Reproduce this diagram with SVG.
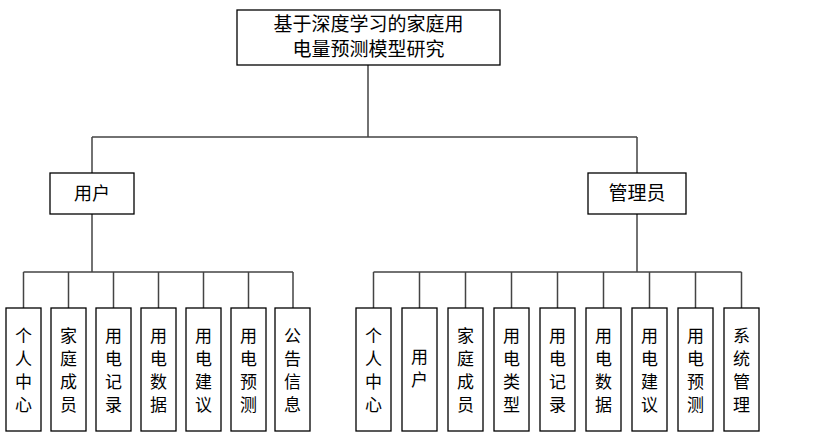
<svg xmlns="http://www.w3.org/2000/svg" width="814" height="446" viewBox="0 0 814 446">
<style>
.b{fill:#fff;stroke:#000;stroke-width:1.3}
.t{font-family:"Noto Sans CJK SC","Noto Sans",sans-serif;font-size:18px;text-anchor:middle;fill:#000}
.v{font-family:"Noto Sans CJK SC","Noto Sans",sans-serif;font-size:17px;text-anchor:middle;fill:#000}
.h{font-size:19px}
.c{fill:none;stroke:#444;stroke-width:1.5}
</style>
<rect width="814" height="446" fill="#fff"/>
<g id="connectors">
<path class="c" d="M368 65V137M92 137H637M92 137V173M637 137V173"/>
<path class="c" d="M92 214V272M23.5 272H293M23.5 272V308M68.5 272V308M113.5 272V308M158.5 272V308M203.5 272V308M248.5 272V308M293 272V308"/>
<path class="c" d="M637 214V272M373.5 272H741.5M373.5 272V308M419.5 272V308M465.5 272V308M511.5 272V308M557.5 272V308M603.5 272V308M649.5 272V308M695.5 272V308M741.5 272V308"/>
</g>
<g id="root"><rect class="b" x="237" y="10" width="263" height="55"/><text class="t h" x="368.5" y="31">基于深度学习的家庭用</text><text class="t h" x="368.5" y="56">电量预测模型研究</text></g>
<g id="user"><rect class="b" x="50" y="173" width="84" height="41"/><text class="t" x="92" y="200">用户</text></g>
<g id="admin"><rect class="b" x="588" y="173" width="98" height="41"/><text class="t h" x="637" y="200">管理员</text></g>
<g id="l1"><rect class="b" x="6" y="308" width="35" height="123"/><text class="v"><tspan x="23.5" y="342">个</tspan><tspan x="23.5" y="365">人</tspan><tspan x="23.5" y="388">中</tspan><tspan x="23.5" y="411">心</tspan></text></g>
<g id="l2"><rect class="b" x="51" y="308" width="35" height="123"/><text class="v"><tspan x="68.5" y="342">家</tspan><tspan x="68.5" y="365">庭</tspan><tspan x="68.5" y="388">成</tspan><tspan x="68.5" y="411">员</tspan></text></g>
<g id="l3"><rect class="b" x="96" y="308" width="35" height="123"/><text class="v"><tspan x="113.5" y="342">用</tspan><tspan x="113.5" y="365">电</tspan><tspan x="113.5" y="388">记</tspan><tspan x="113.5" y="411">录</tspan></text></g>
<g id="l4"><rect class="b" x="141" y="308" width="35" height="123"/><text class="v"><tspan x="158.5" y="342">用</tspan><tspan x="158.5" y="365">电</tspan><tspan x="158.5" y="388">数</tspan><tspan x="158.5" y="411">据</tspan></text></g>
<g id="l5"><rect class="b" x="186" y="308" width="35" height="123"/><text class="v"><tspan x="203.5" y="342">用</tspan><tspan x="203.5" y="365">电</tspan><tspan x="203.5" y="388">建</tspan><tspan x="203.5" y="411">议</tspan></text></g>
<g id="l6"><rect class="b" x="231" y="308" width="35" height="123"/><text class="v"><tspan x="248.5" y="342">用</tspan><tspan x="248.5" y="365">电</tspan><tspan x="248.5" y="388">预</tspan><tspan x="248.5" y="411">测</tspan></text></g>
<g id="l7"><rect class="b" x="275" y="308" width="35" height="123"/><text class="v"><tspan x="292.5" y="342">公</tspan><tspan x="292.5" y="365">告</tspan><tspan x="292.5" y="388">信</tspan><tspan x="292.5" y="411">息</tspan></text></g>
<g id="r1"><rect class="b" x="356" y="308" width="35" height="123"/><text class="v"><tspan x="373.5" y="342">个</tspan><tspan x="373.5" y="365">人</tspan><tspan x="373.5" y="388">中</tspan><tspan x="373.5" y="411">心</tspan></text></g>
<g id="r2"><rect class="b" x="402" y="308" width="35" height="123"/><text class="v"><tspan x="419.5" y="363">用</tspan><tspan x="419.5" y="386">户</tspan></text></g>
<g id="r3"><rect class="b" x="448" y="308" width="35" height="123"/><text class="v"><tspan x="465.5" y="342">家</tspan><tspan x="465.5" y="365">庭</tspan><tspan x="465.5" y="388">成</tspan><tspan x="465.5" y="411">员</tspan></text></g>
<g id="r4"><rect class="b" x="494" y="308" width="35" height="123"/><text class="v"><tspan x="511.5" y="342">用</tspan><tspan x="511.5" y="365">电</tspan><tspan x="511.5" y="388">类</tspan><tspan x="511.5" y="411">型</tspan></text></g>
<g id="r5"><rect class="b" x="540" y="308" width="35" height="123"/><text class="v"><tspan x="557.5" y="342">用</tspan><tspan x="557.5" y="365">电</tspan><tspan x="557.5" y="388">记</tspan><tspan x="557.5" y="411">录</tspan></text></g>
<g id="r6"><rect class="b" x="586" y="308" width="35" height="123"/><text class="v"><tspan x="603.5" y="342">用</tspan><tspan x="603.5" y="365">电</tspan><tspan x="603.5" y="388">数</tspan><tspan x="603.5" y="411">据</tspan></text></g>
<g id="r7"><rect class="b" x="632" y="308" width="35" height="123"/><text class="v"><tspan x="649.5" y="342">用</tspan><tspan x="649.5" y="365">电</tspan><tspan x="649.5" y="388">建</tspan><tspan x="649.5" y="411">议</tspan></text></g>
<g id="r8"><rect class="b" x="678" y="308" width="35" height="123"/><text class="v"><tspan x="695.5" y="342">用</tspan><tspan x="695.5" y="365">电</tspan><tspan x="695.5" y="388">预</tspan><tspan x="695.5" y="411">测</tspan></text></g>
<g id="r9"><rect class="b" x="724" y="308" width="35" height="123"/><text class="v"><tspan x="741.5" y="342">系</tspan><tspan x="741.5" y="365">统</tspan><tspan x="741.5" y="388">管</tspan><tspan x="741.5" y="411">理</tspan></text></g>
</svg>
